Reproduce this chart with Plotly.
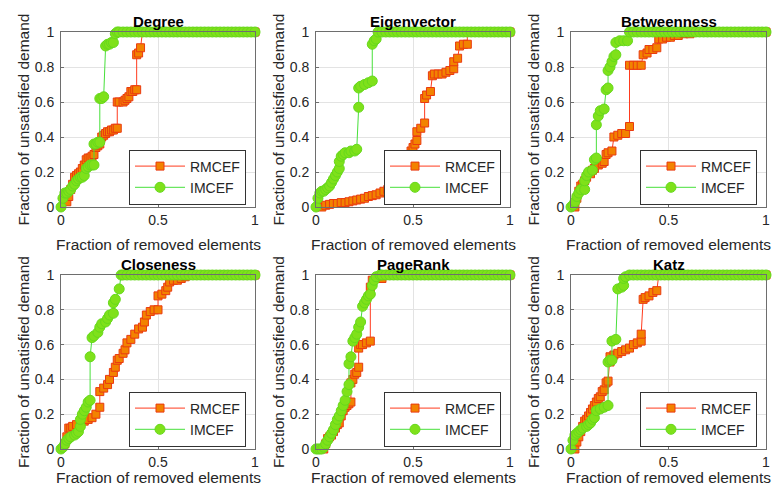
import plotly.graph_objects as go

# ---------------- data ----------------
TITLES = ["Degree", "Eigenvector", "Betweenness", "Closeness", "PageRank", "Katz"]
SERIES_NAMES = ["RMCEF", "IMCEF"]
X_TICKS = [0, 0.5, 1]
X_TICK_TEXT = ["0", "0.5", "1"]
Y_TICKS = [0, 0.2, 0.4, 0.6, 0.8, 1]
Y_TICK_TEXT = ["0", "0.2", "0.4", "0.6", "0.8", "1"]

# flat part of every curve (fraction of unsatisfied demand = 1)
TAIL_X = [0.32, 0.34, 0.36, 0.38, 0.40, 0.42, 0.44, 0.46, 0.48, 0.50, 0.52, 0.54,
          0.56, 0.58, 0.60, 0.62, 0.64, 0.66, 0.68, 0.70, 0.72, 0.74, 0.76, 0.78,
          0.80, 0.82, 0.84, 0.86, 0.88, 0.90, 0.92, 0.94, 0.96, 0.98, 1.00]

DEG_R_X = [0.03, 0.04, 0.05, 0.06, 0.07, 0.08, 0.09, 0.10, 0.11, 0.12, 0.13, 0.14, 0.15, 0.16,
           0.17, 0.18, 0.19, 0.20, 0.21, 0.22, 0.23, 0.24, 0.25, 0.26, 0.27, 0.28, 0.29, 0.29,
           0.30, 0.32, 0.33, 0.34, 0.35, 0.36, 0.37, 0.38, 0.39, 0.39, 0.40, 0.41, 0.42]
DEG_R_Y = [0.03, 0.06, 0.10, 0.13, 0.17, 0.18, 0.19, 0.20, 0.22, 0.24, 0.27, 0.28, 0.28, 0.29,
           0.30, 0.34, 0.35, 0.36, 0.40, 0.41, 0.42, 0.43, 0.43, 0.44, 0.44, 0.45, 0.45, 0.60,
           0.60, 0.60, 0.61, 0.62, 0.63, 0.66, 0.66, 0.67, 0.67, 0.87, 0.88, 0.91, 1.00]
DEG_I_X = [0.00, 0.01, 0.02, 0.03, 0.04, 0.05, 0.06, 0.07, 0.08, 0.09, 0.10, 0.11, 0.12, 0.13,
           0.14, 0.15, 0.16, 0.17, 0.17, 0.18, 0.19, 0.20, 0.20, 0.21, 0.22, 0.23, 0.24, 0.25,
           0.26, 0.27, 0.28, 0.29, 0.30]
DEG_I_Y = [0.00, 0.05, 0.08, 0.08, 0.09, 0.10, 0.12, 0.13, 0.15, 0.16, 0.17, 0.17, 0.18, 0.22,
           0.23, 0.24, 0.24, 0.24, 0.36, 0.36, 0.37, 0.37, 0.62, 0.62, 0.63, 0.92, 0.93, 0.93,
           0.94, 0.94, 0.99, 1.00, 1.00]

EIG_R_X = [0.03, 0.05, 0.07, 0.09, 0.11, 0.13, 0.15, 0.17, 0.19, 0.21, 0.23, 0.25, 0.27, 0.29,
           0.31, 0.33, 0.35, 0.37, 0.39, 0.41, 0.43, 0.45, 0.47, 0.48, 0.49, 0.50, 0.51, 0.52,
           0.52, 0.54, 0.56, 0.56, 0.57, 0.59, 0.60, 0.61, 0.63, 0.65, 0.67, 0.69, 0.71, 0.71,
           0.73, 0.74, 0.76, 0.78, 0.78]
EIG_R_Y = [0.00, 0.01, 0.015, 0.02, 0.02, 0.025, 0.025, 0.03, 0.035, 0.04, 0.045, 0.05, 0.06,
           0.065, 0.07, 0.08, 0.09, 0.10, 0.12, 0.15, 0.18, 0.22, 0.27, 0.30, 0.32, 0.34, 0.36,
           0.38, 0.43, 0.45, 0.48, 0.62, 0.64, 0.66, 0.75, 0.76, 0.76, 0.76, 0.77, 0.78, 0.79,
           0.83, 0.85, 0.92, 0.93, 0.93, 1.00]
EIG_I_X = [0.00, 0.01, 0.02, 0.03, 0.04, 0.05, 0.06, 0.07, 0.08, 0.09, 0.10, 0.11, 0.12, 0.12,
           0.13, 0.14, 0.15, 0.17, 0.18, 0.20, 0.21, 0.22, 0.22, 0.23, 0.25, 0.27, 0.29, 0.29,
           0.30, 0.31, 0.32]
EIG_I_Y = [0.00, 0.05, 0.08, 0.09, 0.09, 0.10, 0.11, 0.12, 0.14, 0.16, 0.18, 0.20, 0.22, 0.26,
           0.29, 0.30, 0.31, 0.31, 0.32, 0.32, 0.33, 0.57, 0.68, 0.69, 0.70, 0.71, 0.72, 0.93,
           0.95, 0.96, 1.00]

BET_R_X = [0.02, 0.03, 0.04, 0.05, 0.06, 0.07, 0.08, 0.10, 0.11, 0.12, 0.14, 0.16, 0.17, 0.18,
           0.19, 0.21, 0.22, 0.24, 0.26, 0.28, 0.30, 0.30, 0.32, 0.34, 0.36, 0.37, 0.39, 0.40,
           0.42, 0.44, 0.45, 0.47, 0.49, 0.51, 0.53, 0.55, 0.58, 0.61, 0.64]
BET_R_Y = [0.00, 0.05, 0.09, 0.12, 0.13, 0.15, 0.17, 0.19, 0.21, 0.22, 0.24, 0.25, 0.26, 0.30,
           0.31, 0.32, 0.40, 0.41, 0.42, 0.42, 0.46, 0.81, 0.81, 0.81, 0.81, 0.87, 0.88, 0.90,
           0.90, 0.91, 0.96, 0.96, 0.97, 0.97, 0.98, 0.98, 0.99, 0.99, 1.00]
BET_I_X = [0.00, 0.01, 0.02, 0.03, 0.04, 0.05, 0.07, 0.07, 0.08, 0.09, 0.11, 0.12, 0.13, 0.13,
           0.14, 0.15, 0.17, 0.18, 0.19, 0.19, 0.20, 0.21, 0.22, 0.23, 0.23, 0.25, 0.27, 0.29,
           0.30]
BET_I_Y = [0.00, 0.01, 0.03, 0.06, 0.08, 0.10, 0.10, 0.15, 0.18, 0.20, 0.21, 0.27, 0.28, 0.47,
           0.52, 0.55, 0.56, 0.67, 0.68, 0.78, 0.80, 0.83, 0.86, 0.87, 0.94, 0.95, 0.95, 0.95,
           1.00]

CLO_R_X = [0.02, 0.03, 0.04, 0.05, 0.06, 0.08, 0.10, 0.12, 0.14, 0.16, 0.18, 0.20, 0.20, 0.22,
           0.24, 0.25, 0.27, 0.28, 0.29, 0.30, 0.32, 0.33, 0.34, 0.36, 0.38, 0.40, 0.42, 0.43,
           0.44, 0.46, 0.48, 0.50, 0.50, 0.52, 0.54, 0.55, 0.56, 0.58, 0.60, 0.62, 0.64, 0.66]
CLO_R_Y = [0.03, 0.07, 0.12, 0.12, 0.13, 0.14, 0.15, 0.16, 0.17, 0.18, 0.20, 0.24, 0.33, 0.35,
           0.37, 0.40, 0.44, 0.47, 0.51, 0.52, 0.55, 0.57, 0.61, 0.63, 0.66, 0.69, 0.70, 0.73,
           0.77, 0.79, 0.80, 0.80, 0.88, 0.89, 0.91, 0.93, 0.96, 0.97, 0.97, 0.98, 0.99, 1.00]
CLO_I_X = [0.00, 0.01, 0.02, 0.03, 0.04, 0.05, 0.07, 0.08, 0.09, 0.10, 0.10, 0.11, 0.12, 0.13,
           0.14, 0.15, 0.15, 0.16, 0.17, 0.19, 0.20, 0.21, 0.23, 0.24, 0.25, 0.27, 0.27, 0.28,
           0.30, 0.31]
CLO_I_Y = [0.00, 0.01, 0.03, 0.05, 0.06, 0.07, 0.08, 0.09, 0.10, 0.13, 0.17, 0.20, 0.22, 0.24,
           0.27, 0.28, 0.53, 0.64, 0.65, 0.67, 0.70, 0.72, 0.73, 0.75, 0.77, 0.78, 0.84, 0.86,
           0.92, 1.00]

PR_R_X = [0.04, 0.05, 0.06, 0.07, 0.08, 0.09, 0.10, 0.11, 0.12, 0.13, 0.14, 0.15, 0.16, 0.17,
          0.18, 0.18, 0.19, 0.20, 0.21, 0.22, 0.22, 0.23, 0.24, 0.26, 0.28, 0.28, 0.29, 0.31,
          0.34, 0.35]
PR_R_Y = [0.00, 0.03, 0.06, 0.07, 0.08, 0.10, 0.12, 0.14, 0.15, 0.19, 0.22, 0.24, 0.25, 0.26,
          0.27, 0.38, 0.40, 0.43, 0.44, 0.47, 0.58, 0.60, 0.60, 0.61, 0.62, 0.93, 0.97, 0.98,
          0.98, 1.00]
PR_I_X = [0.00, 0.01, 0.02, 0.03, 0.04, 0.05, 0.06, 0.07, 0.08, 0.09, 0.10, 0.11, 0.12, 0.13,
          0.14, 0.15, 0.16, 0.17, 0.17, 0.18, 0.19, 0.20, 0.21, 0.22, 0.23, 0.24, 0.25, 0.26,
          0.27, 0.28, 0.29, 0.30, 0.31, 0.33]
PR_I_Y = [0.00, 0.00, 0.00, 0.00, 0.01, 0.03, 0.05, 0.07, 0.09, 0.11, 0.14, 0.17, 0.19, 0.22,
          0.25, 0.28, 0.33, 0.37, 0.49, 0.53, 0.62, 0.64, 0.66, 0.70, 0.73, 0.82, 0.84, 0.86,
          0.88, 0.89, 0.94, 0.97, 0.99, 1.00]

KATZ_R_X = [0.02, 0.03, 0.04, 0.05, 0.06, 0.07, 0.08, 0.09, 0.10, 0.11, 0.12, 0.13, 0.14, 0.15,
            0.16, 0.17, 0.18, 0.19, 0.20, 0.20, 0.22, 0.24, 0.26, 0.28, 0.30, 0.32, 0.34, 0.36,
            0.36, 0.37, 0.38, 0.40, 0.42, 0.44, 0.45]
KATZ_R_Y = [0.00, 0.04, 0.07, 0.10, 0.13, 0.16, 0.17, 0.19, 0.21, 0.23, 0.25, 0.27, 0.29, 0.30,
            0.33, 0.34, 0.38, 0.39, 0.50, 0.53, 0.54, 0.55, 0.56, 0.57, 0.58, 0.60, 0.61, 0.62,
            0.66, 0.86, 0.87, 0.88, 0.90, 0.91, 1.00]
KATZ_I_X = [0.00, 0.01, 0.02, 0.03, 0.04, 0.05, 0.06, 0.08, 0.09, 0.10, 0.11, 0.12, 0.13, 0.15,
            0.17, 0.19, 0.19, 0.20, 0.21, 0.21, 0.23, 0.24, 0.26, 0.27, 0.27, 0.28, 0.30]
KATZ_I_Y = [0.00, 0.05, 0.08, 0.09, 0.10, 0.11, 0.12, 0.13, 0.14, 0.15, 0.17, 0.18, 0.22, 0.23,
            0.24, 0.25, 0.50, 0.51, 0.51, 0.62, 0.63, 0.92, 0.93, 0.94, 0.98, 0.99, 1.00]

PANEL_DATA = [
    ((DEG_R_X, DEG_R_Y), (DEG_I_X, DEG_I_Y)),
    ((EIG_R_X, EIG_R_Y), (EIG_I_X, EIG_I_Y)),
    ((BET_R_X, BET_R_Y), (BET_I_X, BET_I_Y)),
    ((CLO_R_X, CLO_R_Y), (CLO_I_X, CLO_I_Y)),
    ((PR_R_X, PR_R_Y), (PR_I_X, PR_I_Y)),
    ((KATZ_R_X, KATZ_R_Y), (KATZ_I_X, KATZ_I_Y)),
]

# ---------------- layout / style ----------------
W, H = 775, 493
FONT = "Liberation Sans, Arial, Helvetica, sans-serif"
COL_PX = [(61, 255), (316, 510), (571, 766)]
ROW_PX = [(32, 207), (275, 449)]
LEGEND_MID_PX = [177, 419]
XTITLE_PX = [244, 477]

STYLES = [
    dict(line=dict(color="#FF3B1E", width=1),
         marker=dict(symbol="square", size=8, color="#F28300",
                     line=dict(color="#EA3A10", width=1))),
    dict(line=dict(color="#47E03A", width=1),
         marker=dict(symbol="circle", size=10, color="#7FE11A",
                     line=dict(color="#66D91C", width=1))),
]


def with_tail(xs, ys):
    last = xs[-1]
    ext = [t for t in TAIL_X if t > last + 0.005]
    return list(xs) + ext, list(ys) + [1.0] * len(ext)


fig = go.Figure()
annotations = []
layout = dict(width=W, height=H, margin=dict(l=0, r=0, t=0, b=0, autoexpand=False),
              paper_bgcolor="white", plot_bgcolor="white",
              font=dict(family=FONT, size=14, color="#262626"))

for i, title in enumerate(TITLES):
    r, c = divmod(i, 3)
    k = i + 1
    xs = "" if k == 1 else str(k)
    x0, x1 = COL_PX[c]
    y0, y1 = ROW_PX[r]
    xdom = [x0 / W, x1 / W]
    ydom = [1 - y1 / H, 1 - y0 / H]
    legname = "legend" if k == 1 else f"legend{k}"

    for s, (sx, sy) in enumerate(PANEL_DATA[i]):
        fx, fy = with_tail(sx, sy)
        fig.add_trace(go.Scatter(
            x=fx, y=fy, mode="lines+markers", name=SERIES_NAMES[s],
            xaxis=f"x{xs}", yaxis=f"y{xs}", legend=legname, cliponaxis=False,
            **STYLES[s]))

    axis_common = dict(showgrid=True, gridcolor="#E3E3E3", gridwidth=1,
                       showline=True, linecolor="#6E6E6E", linewidth=1, mirror=True,
                       ticks="inside", ticklen=3, tickcolor="#6E6E6E",
                       zeroline=False, fixedrange=True, automargin=False,
                       tickfont=dict(family=FONT, size=14, color="#262626"))
    layout[f"xaxis{xs}"] = dict(domain=xdom, range=[0, 1], anchor=f"y{xs}",
                                tickvals=X_TICKS, ticktext=X_TICK_TEXT, **axis_common)
    layout[f"yaxis{xs}"] = dict(domain=ydom, range=[0, 1], anchor=f"x{xs}",
                                tickvals=Y_TICKS, ticktext=Y_TICK_TEXT,
                                ticklabelstandoff=3, **axis_common)

    layout[legname] = dict(
        x=(x1 - 9) / W, y=1 - LEGEND_MID_PX[r] / H, xanchor="right", yanchor="middle",
        bgcolor="white", bordercolor="#333333", borderwidth=1,
        font=dict(family=FONT, size=14, color="#262626"),
        itemwidth=50, tracegroupgap=0)

    # panel title
    annotations.append(dict(text=f"<b>{title}</b>", x=(x0 + x1) / 2 / W, y=1 - y0 / H,
                            xref="paper", yref="paper", xanchor="center", yanchor="bottom",
                            yshift=0, showarrow=False,
                            font=dict(family=FONT, size=15, color="#000000")))
    # axis titles
    annotations.append(dict(text="Fraction of removed elements", x=(x0 + x1) / 2 / W,
                            y=1 - XTITLE_PX[r] / H, xref="paper", yref="paper",
                            xanchor="center", yanchor="middle", showarrow=False,
                            font=dict(family=FONT, size=15.5, color="#262626")))
    annotations.append(dict(text="Fraction of unsatisfied demand", x=(x0 - 38) / W,
                            y=1 - (y0 + y1) / 2 / H, xref="paper", yref="paper",
                            xanchor="center", yanchor="middle", textangle=-90,
                            showarrow=False,
                            font=dict(family=FONT, size=15.5, color="#262626")))

layout["annotations"] = annotations
layout["showlegend"] = True
fig.update_layout(**layout)
fig.write_html("out.html")
